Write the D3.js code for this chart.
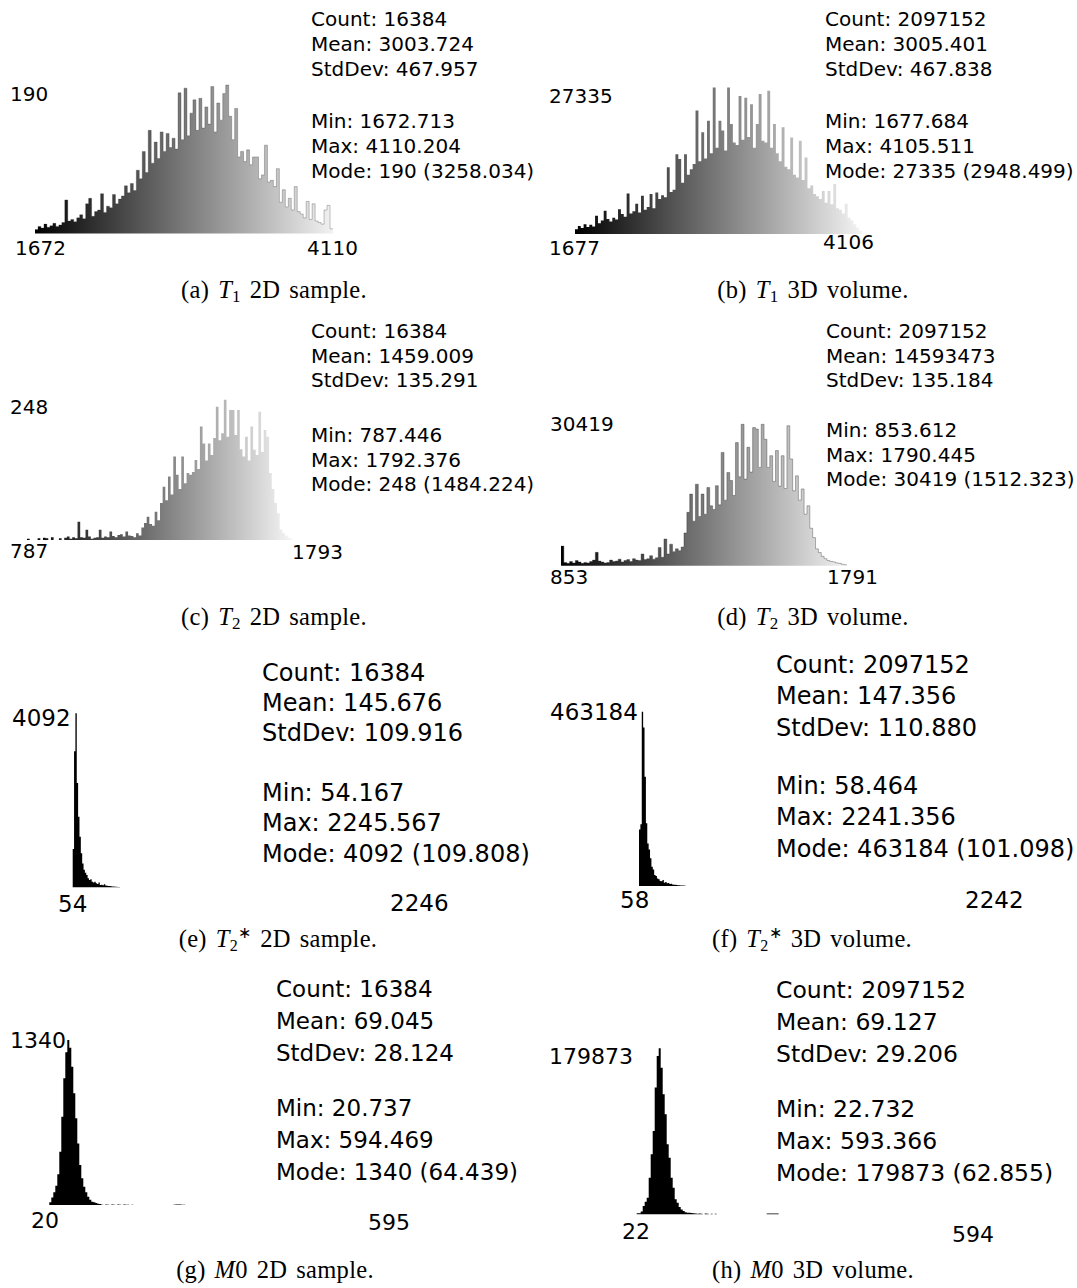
<!DOCTYPE html>
<html><head><meta charset="utf-8">
<script src="https://cdn.jsdelivr.net/npm/d3@7"></script>
<style>
body{margin:0;background:#fff;}
svg text{font-family:"DejaVu Sans",sans-serif;fill:#000;}
svg text.cap{font-family:"Liberation Serif",serif;white-space:pre;}
</style></head><body>
<svg id="chart" width="1077" height="1288"></svg>
<script>
// ---------------- DATA (bin counts) ----------------
const histT1_2D = [5,9,7,12,8,10,13,9,11, 14,43,16,18,15,20,24,19,38,45,22,28, 30,51,27,35,33,50,38,44,
  48,61,52,64,55,81,70,105, 78,132,90,117,96,130,105,128,110,122,108,180,
  120,186,125,154,171,132,173,135,162,140,188, 130,167,145,179,190,150,120,
  160,98,105,92,107,88,98, 98,70,75,113,66,68,60,83, 40,56,34,45,30,60,28,
  25,20,41,18,38,16,14,12,30,36,6];
const histT1_3D = [900,1500,1100,1800,1300,1700,1400, 3400,2000,2500,4300,2800,2300,3000,2700,4600,3700,3200,7500,
  3800,4200,5600,4000,7100,4500,5000,7400,4800,7700,
  6500,7200,6800,12400,7800,8200,14800,13900,9500,14800,11000,12000,13000,
  22900,13500,18900,14000,21000,15000,27200,16000,21000,19200,15500,
  27200,20400,17000,16500,25600,17500,25300,18000,24100,16000,20400,26000,17300,17000,26600,16000,20400,
  15000,13500,19800,12500,12000,17900,11000,10500,17300,10000,14200,
  8500,9000,7400,7000,6500,8000,5800,8000,5500,9300,4800,4500,3800,5600,3000,2500, 1800,1200,600];
const histT2_2D = [2,0,0,0,3,0,4,3,0,5,0,0,3,0,4,6,2,5,3,32,5,4,18,6,2,4,5,18,4,6,5,15,7,5,9,10,6,15,8,7,5,12,8,22,
  30,41,28,25,50,35, 65,94,70,112,80,147,115,90,147,100, 118,115,120,141,125,200,170,140,170,150,
  180,235,176,188,247,182,229,229,185,229, 160,147,182,140,200, 159,150,226,155,194,182,
  118,90,65,47, 18,12,8,4,2];
const histT2_3D = [4200,700,500,900,600,1100,800,500,700,600,900,1200,2850,1000,800,600,700,1200,900,1000,1400,800,1100,1300,900,1500,1200,1100,2500,1300,1500,2140,1400,1700,3900,1800,5700,
  2500,4600,3000,3600,3200,4000, 7000,11400,15300,9500,17400,10500,15300,11000,16700,12800,
  12000,17100,13000,24200,14000,19900,18200,15000,26300,
  19000,30200,18500,25300,20000,29500,29200,21000,30200,27000,21000,23500,
  18000,24600,17000,23500,16500,29900,22800, 16000,19200,14000,16400,11000,12800,8000,6000,
  3600,2800,2000,1500,1100,900,800,600,500,300,200];
const histT2s_2D = [900,3200,4092,2450,1660,1190,800,560,410,345,290,210,170,190,130,110,130,95,80,110,55,60,47,70,40,35,30,30,25,20,20,15,15,10,10];
const histT2s_3D = [150000,164000,463184,421500,290500,166500,113000,97000,73500,51000,44000,29000,26500,20000,17700,13300,12400,16000,8900,10600,7100,8000,5300,6200,4000,3500,3000,2500,2000,1800,1500,1200,1000,800];
const histM0_2D = [22,60,103,157,250,433,717,1030,1240,1340,1278,1123,907,704,500,325,217,149,103,68,43,27,22,16,11,8,
  3,0,4,3,0,4,3,0,4,3,0,4,3,3,0,2,
  0,0,0,0,0,0,0,0,0,0,0,0,0,0,0,0,0,0,0,0,
  3,4,4,4,3,2];
const histM0_3D = [1100,1100,2900,9000,13700,18000,39700,65000,90300,137300,171600,179873,158900,130000,108400,75900,61400,39700,28900,16300,12600,7900,5100,3600,2200,1800,1800,1400,1100,
  900,700,900,700,0,800,700,0,700,0,600,
  0,0,0,0,0,0,0,0,0,0,0,0,0,0,0,0,0,0,0,0,0,0,0,0,0,
  1000,1000,1000,1000,1000,1000];

const yMaxLabels = ["190","27335","248","30419","4092","463184","1340","179873"];
const xMinLabels = ["1672","1677","787","853","54","58","20","22"];
const xMaxLabels = ["4110","4106","1793","1791","2246","2242","595","594"];

const statCount = ["16384","2097152","16384","2097152","16384","2097152","16384","2097152"];
const statMean  = ["3003.724","3005.401","1459.009","14593473","145.676","147.356","69.045","69.127"];
const statStd   = ["467.957","467.838","135.291","135.184","109.916","110.880","28.124","29.206"];
const statMin   = ["1672.713","1677.684","787.446","853.612","54.167","58.464","20.737","22.732"];
const statMax   = ["4110.204","4105.511","1792.376","1790.445","2245.567","2241.356","594.469","593.366"];
const statMode  = ["190 (3258.034)","27335 (2948.499)","248 (1484.224)","30419 (1512.323)","4092 (109.808)","463184 (101.098)","1340 (64.439)","179873 (62.855)"];

const capLetters = ["a","b","c","d","e","f","g","h"];
const capSymbols = ["T1","T1","T2","T2","T2*","T2*","M0","M0"];
const capDescs   = ["2D sample.","3D volume.","2D sample.","3D volume.","2D sample.","3D volume.","2D sample.","3D volume."];

const histograms = [histT1_2D,histT1_3D,histT2_2D,histT2_3D,histT2s_2D,histT2s_3D,histM0_2D,histM0_3D];

// ---------------- LAYOUT ----------------
const layout = [
 {x0:35,   bw:2.98,  base:233.5, top:85,    grad:"#f2f2f2", outline:"rgba(40,40,40,0.4)",
  lfs:20, ymx:[10,94],   mnx:[15,247.5], mxx:[307,247.5], sfs:20, st:[311,19,24.7,52.6], cap:[274,298]},
 {x0:575,  bw:2.87,  base:234,   top:86.7,  grad:"#f4f4f4", outline:null,
  lfs:20, ymx:[549,96],  mnx:[549,247.5],mxx:[823,242],   sfs:20, st:[825,19,24.7,52.6], cap:[813,298]},
 {x0:27,   bw:2.66,  base:540,   top:399.3, grad:"#f6f6f6", outline:null,
  lfs:20, ymx:[10,407],  mnx:[10,551],   mxx:[292,552],   sfs:20, st:[311,331,24.5,55], cap:[274,625]},
 {x0:561,  bw:2.86,  base:565.7, top:423.3, grad:"#f2f2f2", outline:"rgba(40,40,40,0.5)",
  lfs:20, ymx:[550,424], mnx:[550,577],   mxx:[827,577],   sfs:20, st:[826,331,24.5,50], cap:[813,625]},
 {x0:72.7, bw:1.355, base:887.3, top:713.3, grad:null, outline:null,
  lfs:23, ymx:[12,718],  mnx:[58,904],    mxx:[390,903],   sfs:24, st:[262,672,30.2,60], cap:[278,947]},
 {x0:639,  bw:1.38,  base:886,   top:711.7, grad:null, outline:null,
  lfs:23, ymx:[550,712], mnx:[620,900],   mxx:[965,900],   sfs:24, st:[776,664,31.5,58], cap:[812,947]},
 {x0:49.3, bw:2,     base:1205,  top:1040,  grad:null, outline:null,
  lfs:22, ymx:[10,1040], mnx:[31,1220],   mxx:[368,1222],  sfs:23, st:[276,989,32,55], cap:[275,1278]},
 {x0:636.7,bw:2,     base:1214.3,top:1048.3,grad:null, outline:null,
  lfs:22, ymx:[549,1056],mnx:[622,1231],  mxx:[952,1234],  sfs:23.5, st:[776,989,32,55], cap:[813,1278]}
];

// ---------------- DRAW ----------------
const svg = d3.select("#chart");
const defs = svg.append("defs");

function label(txt, x, cy, fs){
  svg.append("text").attr("x", x).attr("y", cy + 0.365*fs)
    .style("font-size", fs + "px").text(txt);
}

histograms.forEach((vals, i) => {
  const L = layout[i];
  const n = vals.length;
  const x = d3.scaleLinear().domain([0, n]).range([L.x0, L.x0 + n*L.bw]);
  const y = d3.scaleLinear().domain([0, +yMaxLabels[i]]).range([L.base, L.top]);
  const pts = vals.map((v, j) => [j, v]).concat([[n, vals[n-1]]]);

  let fill = "#000";
  if (L.grad) {
    const gid = "grad" + i;
    const g = defs.append("linearGradient").attr("id", gid)
      .attr("gradientUnits", "userSpaceOnUse")
      .attr("x1", x(0)).attr("x2", x(n)).attr("y1", 0).attr("y2", 0);
    g.append("stop").attr("offset", 0).attr("stop-color", "#000");
    g.append("stop").attr("offset", 1).attr("stop-color", L.grad);
    fill = `url(#${gid})`;
  }
  const area = d3.area().x(d => x(d[0])).y0(L.base).y1(d => y(d[1])).curve(d3.curveStepAfter);
  svg.append("path").attr("d", area(pts)).attr("fill", fill);
  if (L.outline) {
    const line = d3.line().x(d => x(d[0])).y(d => y(d[1])).curve(d3.curveStepAfter);
    svg.append("path").attr("d", line(pts)).attr("fill", "none")
       .attr("stroke", L.outline).attr("stroke-width", 0.7);
  }

  label(yMaxLabels[i], L.ymx[0], L.ymx[1], L.lfs);
  label(xMinLabels[i], L.mnx[0], L.mnx[1], L.lfs);
  label(xMaxLabels[i], L.mxx[0], L.mxx[1], L.lfs);

  const [sx, sy, s, gap] = L.st;
  const lines = [`Count: ${statCount[i]}`, `Mean: ${statMean[i]}`, `StdDev: ${statStd[i]}`,
                 `Min: ${statMin[i]}`, `Max: ${statMax[i]}`, `Mode: ${statMode[i]}`];
  const offs = [0, s, 2*s, 2*s+gap, 3*s+gap, 4*s+gap];
  lines.forEach((t, j) => label(t, sx, sy + offs[j], L.sfs));

  // caption
  const cap = svg.append("text").attr("class", "cap")
    .attr("x", L.cap[0]).attr("y", L.cap[1]).attr("text-anchor", "middle")
    .style("font-size", "24.5px").style("word-spacing", "2.5px").style("letter-spacing", "0.3px");
  cap.append("tspan").text(`(${capLetters[i]}) `);
  const sym = capSymbols[i];
  if (sym === "M0") {
    cap.append("tspan").style("font-style", "italic").text("M");
    cap.append("tspan").text("0");
    cap.append("tspan").text(" " + capDescs[i]);
  } else if (sym === "T2*") {
    cap.append("tspan").style("font-style", "italic").text("T");
    cap.append("tspan").style("font-size", "16px").attr("dy", 4).text("2");
    cap.append("tspan").style("font-size", "16px").attr("dy", -13).text("\u2217");
    cap.append("tspan").attr("dy", 9).text(" " + capDescs[i]);
  } else {
    cap.append("tspan").style("font-style", "italic").text("T");
    cap.append("tspan").style("font-size", "17px").attr("dy", 4).text(sym.slice(1));
    cap.append("tspan").attr("dy", -4).text(" " + capDescs[i]);
  }
});
</script>
</body></html>
